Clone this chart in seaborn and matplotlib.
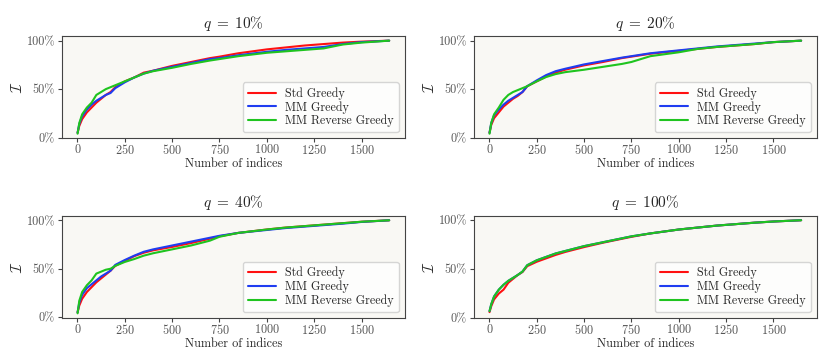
import numpy as np
import pandas as pd
import matplotlib
matplotlib.use("Agg")
import matplotlib.pyplot as plt
import seaborn as sns
from matplotlib.ticker import PercentFormatter

# Number of selected indices (shared x grid)
n_indices = [1, 10, 25, 50, 75, 100, 125, 150, 175, 200, 250, 300, 350, 400,
             500, 600, 700, 750, 850, 1000, 1100, 1200, 1300, 1400, 1500, 1646]

# q = 10%
q10_std = [0.05, 0.12, 0.19, 0.26, 0.31, 0.36, 0.40, 0.44, 0.47, 0.52, 0.58, 0.62, 0.67, 0.69,
           0.74, 0.78, 0.82, 0.835, 0.87, 0.91, 0.93, 0.95, 0.965, 0.98, 0.99, 1.0]
q10_mm = [0.05, 0.14, 0.22, 0.29, 0.34, 0.38, 0.41, 0.44, 0.46, 0.51, 0.57, 0.62, 0.66, 0.69,
          0.73, 0.77, 0.81, 0.82, 0.85, 0.885, 0.905, 0.92, 0.935, 0.965, 0.985, 1.0]
q10_rev = [0.04, 0.15, 0.24, 0.31, 0.36, 0.44, 0.47, 0.50, 0.52, 0.54, 0.58, 0.62, 0.66, 0.685,
           0.72, 0.76, 0.795, 0.81, 0.84, 0.875, 0.89, 0.905, 0.92, 0.96, 0.98, 1.0]

# q = 20%
q20_std = [0.05, 0.13, 0.20, 0.26, 0.32, 0.36, 0.40, 0.43, 0.47, 0.53, 0.58, 0.63, 0.67, 0.70,
           0.745, 0.78, 0.82, 0.835, 0.865, 0.895, 0.915, 0.935, 0.95, 0.965, 0.985, 1.0]
q20_mm = [0.05, 0.15, 0.23, 0.29, 0.34, 0.38, 0.41, 0.44, 0.47, 0.53, 0.59, 0.645, 0.685, 0.71,
          0.755, 0.79, 0.825, 0.84, 0.87, 0.90, 0.92, 0.94, 0.955, 0.97, 0.985, 1.0]
q20_rev = [0.04, 0.15, 0.24, 0.31, 0.39, 0.44, 0.47, 0.49, 0.51, 0.53, 0.58, 0.625, 0.655, 0.675,
           0.70, 0.73, 0.76, 0.78, 0.84, 0.88, 0.915, 0.935, 0.95, 0.965, 0.985, 1.0]

# q = 40%
q40_std = [0.05, 0.12, 0.19, 0.26, 0.31, 0.36, 0.40, 0.44, 0.48, 0.53, 0.58, 0.63, 0.665, 0.69,
           0.725, 0.765, 0.81, 0.835, 0.87, 0.905, 0.925, 0.94, 0.955, 0.97, 0.985, 1.0]
q40_mm = [0.05, 0.15, 0.23, 0.30, 0.34, 0.38, 0.42, 0.45, 0.48, 0.54, 0.59, 0.635, 0.675, 0.70,
          0.74, 0.78, 0.82, 0.84, 0.87, 0.90, 0.92, 0.935, 0.95, 0.965, 0.983, 1.0]
q40_rev = [0.04, 0.17, 0.26, 0.33, 0.38, 0.45, 0.47, 0.49, 0.50, 0.53, 0.57, 0.60, 0.635, 0.66,
           0.70, 0.74, 0.79, 0.83, 0.87, 0.905, 0.925, 0.94, 0.955, 0.97, 0.985, 1.0]

# q = 100%
q100_std = [0.06, 0.12, 0.19, 0.25, 0.29, 0.36, 0.40, 0.44, 0.47, 0.53, 0.575, 0.61, 0.645, 0.675,
            0.725, 0.77, 0.81, 0.83, 0.865, 0.905, 0.925, 0.945, 0.96, 0.975, 0.987, 1.0]
q100_mm = [0.07, 0.14, 0.22, 0.29, 0.34, 0.38, 0.41, 0.44, 0.475, 0.54, 0.59, 0.625, 0.66, 0.685,
           0.735, 0.775, 0.815, 0.835, 0.865, 0.905, 0.925, 0.945, 0.96, 0.975, 0.987, 1.0]
q100_rev = [0.07, 0.14, 0.22, 0.29, 0.34, 0.38, 0.41, 0.44, 0.475, 0.54, 0.59, 0.625, 0.66, 0.685,
            0.735, 0.775, 0.815, 0.835, 0.865, 0.905, 0.925, 0.945, 0.96, 0.975, 0.987, 1.0]

panel_titles = ["$q \\;=\\; 10\\%$", "$q \\;=\\; 20\\%$", "$q \\;=\\; 40\\%$", "$q \\;=\\; 100\\%$"]
method_names = ["Std Greedy", "MM Greedy", "MM Reverse Greedy"]
panels = [
    (q10_std, q10_mm, q10_rev),
    (q20_std, q20_mm, q20_rev),
    (q40_std, q40_mm, q40_rev),
    (q100_std, q100_mm, q100_rev),
]

sns.set_style("ticks")
plt.rcParams["font.family"] = ["cmr10", "DejaVu Serif"]
plt.rcParams["mathtext.fontset"] = "cm"
plt.rcParams["axes.unicode_minus"] = False
plt.rcParams["axes.formatter.use_mathtext"] = True

palette = {"Std Greedy": "#ff1010", "MM Greedy": "#1f3cf0", "MM Reverse Greedy": "#1fc41f"}

fig, axes = plt.subplots(2, 2, figsize=(8.3, 3.63), dpi=100)
fig.subplots_adjust(left=0.0747, right=0.984, top=0.9008, bottom=0.124,
                    wspace=0.2018, hspace=0.755)

for ax, title, series in zip(axes.flat, panel_titles, panels):
    frames = []
    for name, vals in zip(method_names, series):
        frames.append(pd.DataFrame({"n": n_indices, "val": vals, "method": name}))
    df = pd.concat(frames, ignore_index=True)
    sns.lineplot(data=df, x="n", y="val", hue="method", palette=palette,
                 hue_order=method_names, linewidth=1.5, ax=ax)
    ax.set_facecolor("#f9f8f4")
    ax.set_title(title, fontsize=11)
    ax.set_xlabel("Number of indices", fontsize=8.8, labelpad=0.5)
    ax.set_ylabel("$\\mathcal{I}$", fontsize=10.5)
    ax.yaxis.set_label_coords(-0.108, 0.5)
    ax.set_xticks([0, 250, 500, 750, 1000, 1250, 1500])
    ax.set_yticks([0, 0.5, 1.0])
    ax.yaxis.set_major_formatter(PercentFormatter(xmax=1, decimals=0))
    ax.tick_params(labelsize=8.8, colors="#444444", labelcolor="#555555", length=3, pad=2)
    ax.tick_params(axis="x", pad=0.5)
    for sp in ax.spines.values():
        sp.set_visible(True)
        sp.set_color("#444444")
    ax.legend(loc="lower right", fontsize=8.7, frameon=True, fancybox=True,
              handlelength=2.3, labelspacing=0.1, borderpad=0.4)

fig.savefig("out.png", dpi=100)
